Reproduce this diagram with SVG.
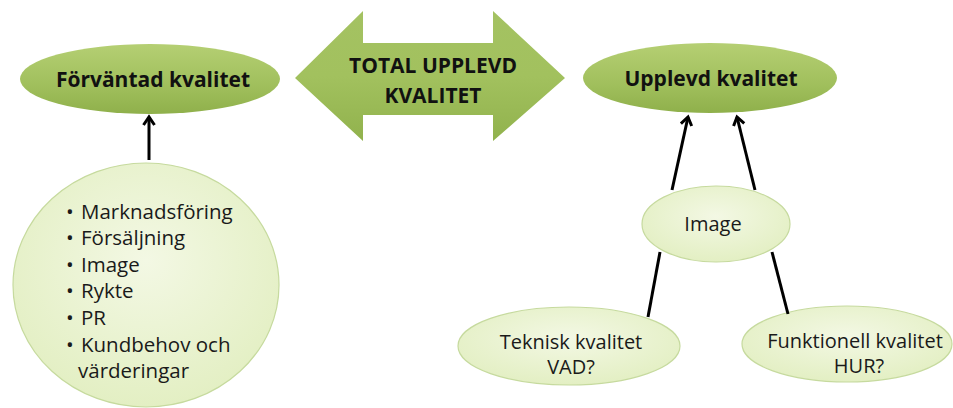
<svg xmlns="http://www.w3.org/2000/svg" width="953" height="408" viewBox="0 0 953 408">
  <defs>
    <linearGradient id="gStrong" x1="0" y1="0" x2="0" y2="1">
      <stop offset="0" stop-color="#b5cf73"/>
      <stop offset="0.6" stop-color="#a0bf5c"/>
      <stop offset="1" stop-color="#8fb04b"/>
    </linearGradient>
    <linearGradient id="gArrow" x1="0" y1="0" x2="0" y2="1">
      <stop offset="0" stop-color="#a4c262"/>
      <stop offset="0.5" stop-color="#a2c15e"/>
      <stop offset="1" stop-color="#91b24d"/>
    </linearGradient>
    <radialGradient id="gPale" cx="0.5" cy="0.4" r="0.6">
      <stop offset="0" stop-color="#f3f8e4"/>
      <stop offset="1" stop-color="#e3efc3"/>
    </radialGradient>
    <!-- open stick arrowhead, tip on the +x axis -->
    <marker id="head" viewBox="0 0 14 14" refX="11" refY="7" markerWidth="14" markerHeight="14" markerUnits="userSpaceOnUse" orient="auto">
      <path d="M3,1.5 L11,7 L3,12.5" fill="none" stroke="#000" stroke-width="3" stroke-linejoin="miter"/>
    </marker>
    <style>
      .strong { fill: url(#gStrong); }
      .pale { fill: url(#gPale); stroke: #c6da9e; stroke-width: 1.2; }
      .title { font-family: "Open Sans", "Liberation Sans", sans-serif; font-weight: bold; font-size: 21px; fill: #111; text-anchor: middle; }
      .label { font-family: "Open Sans", "Liberation Sans", sans-serif; font-size: 20px; fill: #1a1a1a; text-anchor: middle; }
      .bullet { font-family: "Open Sans", "Liberation Sans", sans-serif; font-size: 20.5px; fill: #1a1a1a; }
      .conn { fill: none; stroke: #000; stroke-width: 3; }
    </style>
  </defs>

  <rect width="953" height="408" fill="#ffffff"/>

  <!-- Expected quality -->
  <g id="forvantad">
    <ellipse class="strong" cx="150" cy="79" rx="130" ry="35"/>
    <text class="title" x="153" y="87">Förväntad kvalitet</text>
  </g>

  <!-- Double-headed arrow -->
  <g id="total">
    <path d="M295,78 L363,11 L363,43 L493,43 L493,11 L565,78 L493,141 L493,115 L363,115 L363,141 Z" fill="url(#gArrow)"/>
    <text class="title" x="433" y="73">TOTAL UPPLEVD</text>
    <text class="title" x="433" y="103">KVALITET</text>
  </g>

  <!-- Perceived quality -->
  <g id="upplevd">
    <ellipse class="strong" cx="710" cy="78" rx="127" ry="35"/>
    <text class="title" x="711" y="86">Upplevd kvalitet</text>
  </g>

  <!-- Factors list -->
  <g id="faktorer">
    <ellipse class="pale" cx="146" cy="285" rx="133" ry="122"/>
    <g class="bullet">
      <text x="66" y="219">•<tspan x="81">Marknadsföring</tspan></text>
      <text x="66" y="245">•<tspan x="81">Försäljning</tspan></text>
      <text x="66" y="272">•<tspan x="81">Image</tspan></text>
      <text x="66" y="298">•<tspan x="81">Rykte</tspan></text>
      <text x="66" y="325">•<tspan x="81">PR</tspan></text>
      <text x="66" y="352">•<tspan x="81">Kundbehov och</tspan></text>
      <text x="78" y="378">värderingar</text>
    </g>
  </g>

  <!-- Image -->
  <g id="image">
    <ellipse class="pale" cx="716" cy="224" rx="74" ry="38"/>
    <text class="label" x="713" y="231">Image</text>
  </g>

  <!-- Technical quality -->
  <g id="teknisk">
    <ellipse class="pale" cx="569" cy="346" rx="111" ry="39"/>
    <text class="label" x="571" y="349">Teknisk kvalitet</text>
    <text class="label" x="571" y="374">VAD?</text>
  </g>

  <!-- Functional quality -->
  <g id="funktionell">
    <ellipse class="pale" cx="847" cy="344" rx="105" ry="38"/>
    <text class="label" x="855" y="348">Funktionell kvalitet</text>
    <text class="label" x="859" y="373">HUR?</text>
  </g>

  <!-- Connectors -->
  <g id="connectors">
    <line class="conn" x1="149" y1="160" x2="149" y2="117" marker-end="url(#head)"/>
    <line class="conn" x1="672" y1="190" x2="688" y2="117" marker-end="url(#head)"/>
    <line class="conn" x1="755" y1="190" x2="737" y2="117" marker-end="url(#head)"/>
    <line class="conn" x1="660" y1="252" x2="648" y2="317"/>
    <line class="conn" x1="772" y1="252" x2="788" y2="314"/>
  </g>
</svg>
